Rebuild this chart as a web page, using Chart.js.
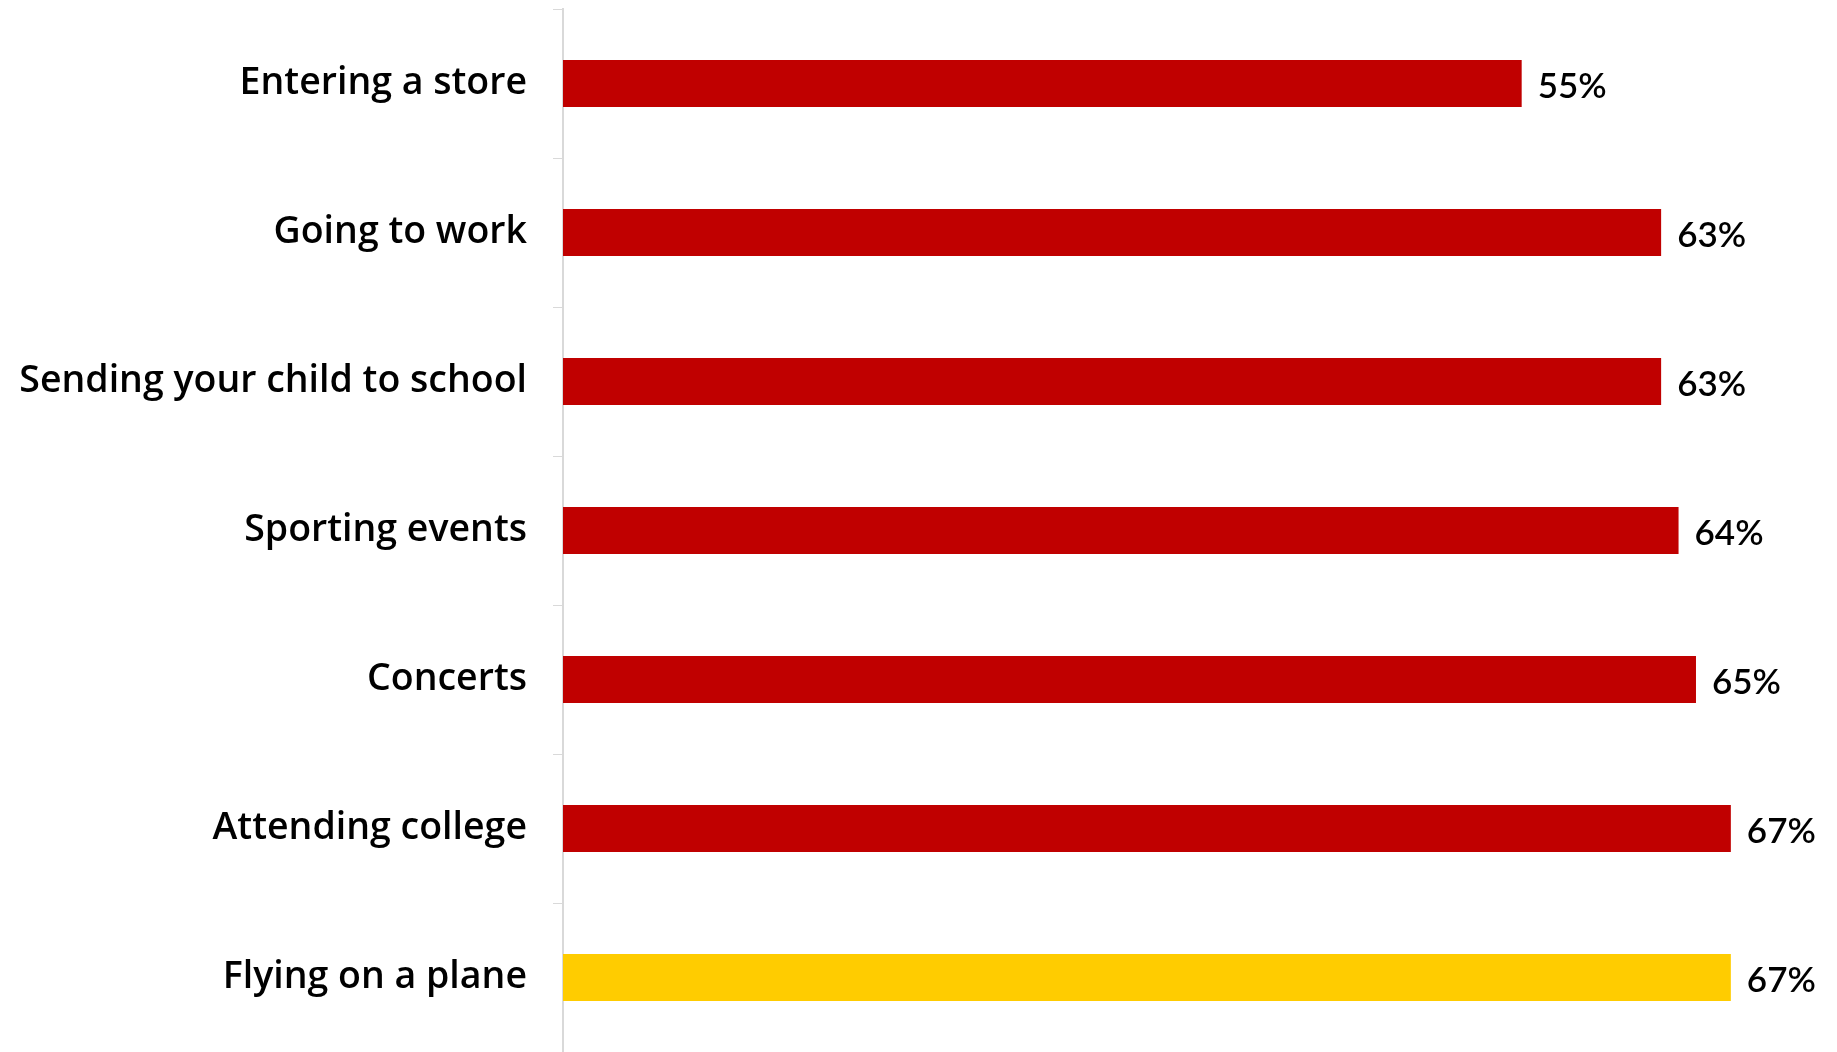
<!DOCTYPE html>
<html>
<head>
<meta charset="utf-8">
<script src="https://cdn.jsdelivr.net/npm/chart.js@4"></script>
<style>
  html, body { margin: 0; padding: 0; background: #fff; }
  #wrap { width: 1837px; height: 1052px; position: relative; }
</style>
</head>
<body>
<div id="wrap"><canvas id="myChart"></canvas></div>
<script>
// chart data
const categories = ['Entering a store', 'Going to work', 'Sending your child to school', 'Sporting events', 'Concerts', 'Attending college', 'Flying on a plane'];
const values = [55, 63, 63, 64, 65, 67, 67];
const barColors = ['#C00000', '#C00000', '#C00000', '#C00000', '#C00000', '#C00000', '#FFCC00'];

// draws the "55%" style labels at the end of each bar
const valueLabels = {
    id: 'valueLabels',
    afterDatasetsDraw(chart) {
        const ctx = chart.ctx;
        const meta = chart.getDatasetMeta(0);
        ctx.save();
        ctx.font = '600 35px Lato';
        ctx.fillStyle = '#000';
        ctx.textAlign = 'left';
        ctx.textBaseline = 'middle';
        meta.data.forEach(function(bar, i) {
            ctx.fillText(values[i] + '%', bar.x + 16, bar.y + 3);
        });
        ctx.restore();
    }
};

var ctx = document.getElementById('myChart').getContext('2d');
var chart = new Chart(ctx, {
    type: 'bar',
    data: {
        labels: categories,
        datasets: [{
            data: values,
            backgroundColor: barColors,
            categoryPercentage: 1,
            barPercentage: 0.315
        }]
    },
    options: {
        indexAxis: 'y',
        responsive: true,
        maintainAspectRatio: false,
        animation: false,
        layout: { padding: { top: 9, right: 19, bottom: 0, left: 0 } },
        plugins: {
            legend: { display: false },
            tooltip: { enabled: false }
        },
        scales: {
            x: {
                display: false,
                min: 0,
                max: 72
            },
            y: {
                afterFit: function(scale) {
                    scale.width = 563;
                    // no extra room above/below for the labels
                    scale.paddingTop = 0;
                    scale.paddingBottom = 0;
                },
                grid: {
                    drawOnChartArea: false,
                    drawTicks: true,
                    tickLength: 10,
                    color: '#d9d9d9'
                },
                border: { display: true, color: '#d9d9d9', width: 2 },
                ticks: {
                    padding: 26,
                    color: '#000',
                    font: { family: 'Open Sans', size: 37.5, weight: 600 }
                }
            }
        }
    },
    plugins: [valueLabels]
});
</script>
</body>
</html>
